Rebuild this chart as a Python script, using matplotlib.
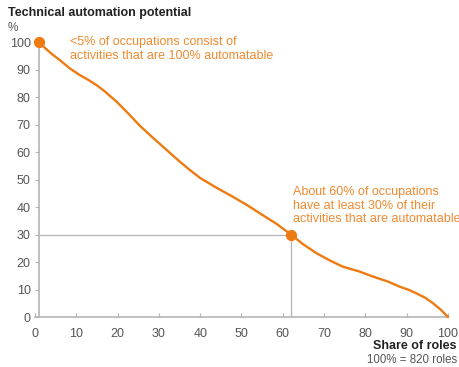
import matplotlib.pyplot as plt

plt.rcParams['font.family'] = ['Liberation Sans', 'DejaVu Sans']

# Curve: share of roles (%) vs technical automation potential (%)
share = [1, 2.5, 4, 6, 8.5, 10.9, 13, 14.9, 17, 19.8, 22.5, 25.4, 28, 30.3, 32.7, 35.1, 37.5, 40, 44, 48,
         51.5, 54.5, 58.5, 62, 65, 68.2, 71.5, 74.6, 78.5, 81.9, 85.5, 88.4, 90.5, 92.4, 94.5, 96.4, 98.3, 100]
potential = [100, 97.8, 95.8, 93.5, 90.4, 88, 86.2, 84.4, 82, 78.3, 74.2, 69.6, 66, 62.9, 59.7, 56.5, 53.5,
             50.6, 47, 43.7, 40.6, 37.7, 33.9, 30, 26.4, 23.2, 20.5, 18.3, 16.6, 14.7, 12.9, 11, 9.9, 8.6,
             7, 5, 2.6, 0]

# Highlighted points
hi_x = [1, 62]
hi_y = [100, 30]

x_ticks = list(range(0, 101, 10))
y_ticks = list(range(0, 101, 10))

orange = '#EE7A12'
text_orange = '#F08A30'
grey = '#B5B5B5'
label_grey = '#555555'

fig = plt.figure(figsize=(4.6, 3.67), dpi=100)
ax = fig.add_axes([0.076, 0.136, 0.898, 0.749])

# guide lines to the 60% point
ax.plot([1, hi_x[1]], [hi_y[1], hi_y[1]], color=grey, lw=0.9, zorder=1)
ax.plot([hi_x[1], hi_x[1]], [0, hi_y[1]], color=grey, lw=0.9, zorder=1)

ax.plot(share, potential, color=orange, lw=1.7, solid_capstyle='round', solid_joinstyle='round',
        zorder=3, clip_on=False)
ax.scatter(hi_x, hi_y, s=50, color=orange, zorder=4, clip_on=False)

ax.set_xlim(0, 100)
ax.set_ylim(0, 100)
ax.set_xticks(x_ticks)
ax.set_yticks(y_ticks)

for s in ['top', 'right']:
    ax.spines[s].set_visible(False)
ax.spines['left'].set_position(('data', 1))
ax.spines['left'].set_color(grey)
ax.spines['bottom'].set_color(grey)
ax.spines['left'].set_linewidth(1.2)
ax.spines['bottom'].set_linewidth(1.2)

ax.tick_params(axis='x', direction='in', length=3, color=grey, labelcolor=label_grey, labelsize=9, pad=8)
ax.tick_params(axis='y', direction='out', length=3, color=grey, labelcolor=label_grey, labelsize=9, pad=3)

# titles
fig.text(0.017, 0.965, 'Technical automation potential', fontsize=9, fontweight='bold', color='#222222', va='center')
fig.text(0.017, 0.925, '%', fontsize=8.5, color=label_grey, va='center')
fig.text(0.993, 0.058, 'Share of roles', fontsize=9, fontweight='bold', color='#222222', ha='right', va='center')
fig.text(0.993, 0.02, '100% = 820 roles', fontsize=8.3, color=label_grey, ha='right', va='center')

# annotations
ax.text(8.5, 97.5, '<5% of occupations consist of\nactivities that are 100% automatable',
        fontsize=9, color=text_orange, va='center', linespacing=1.15)
ax.text(62.5, 40.5, 'About 60% of occupations\nhave at least 30% of their\nactivities that are automatable',
        fontsize=9, color=text_orange, va='center', linespacing=1.15)

fig.savefig('out.png', dpi=100)
